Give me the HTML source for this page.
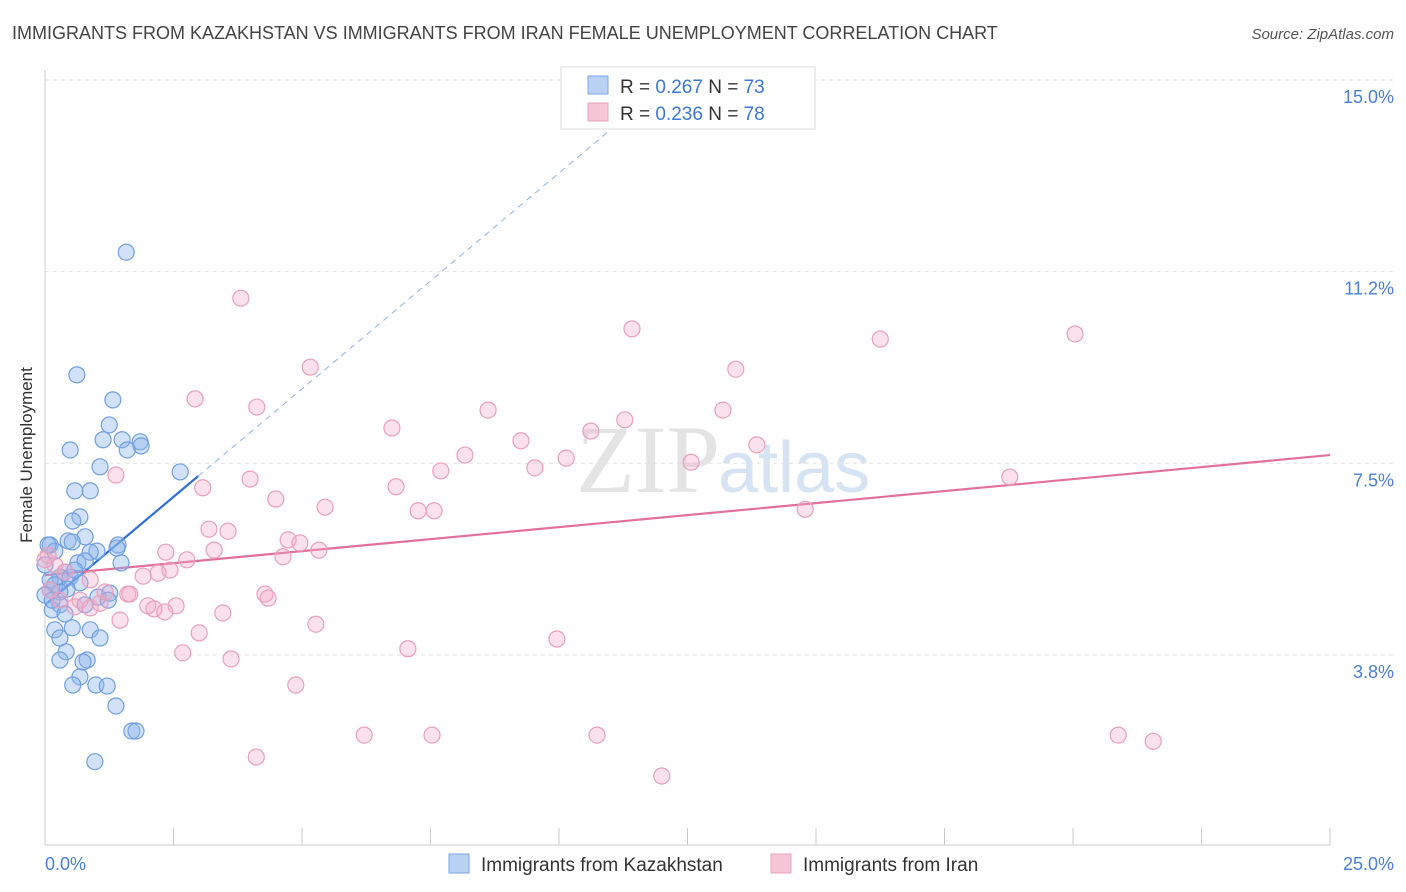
<!DOCTYPE html>
<html><head><meta charset="utf-8"><style>
body{margin:0;background:#fff;font-family:"Liberation Sans",sans-serif}
svg{display:block}
</style></head><body>
<svg width="1406" height="892" viewBox="0 0 1406 892">
<text x="12" y="39" font-size="18" fill="#444">IMMIGRANTS FROM KAZAKHSTAN VS IMMIGRANTS FROM IRAN FEMALE UNEMPLOYMENT CORRELATION CHART</text>
<text x="1394" y="39" font-size="15" fill="#555" text-anchor="end" font-style="italic">Source: ZipAtlas.com</text>
<text x="720" y="492" font-size="96" fill="#e4e4e4" text-anchor="end" font-family="Liberation Serif">ZIP</text>
<text x="718" y="492" font-size="72" fill="#d6e3f3">atlas</text>
<g id="grid"></g><g id="axes"></g><g id="lines"></g><g id="pts"></g>
<text x="32" y="455" font-size="17" fill="#333" text-anchor="middle" transform="rotate(-90 32 455)">Female Unemployment</text>
<text x="45" y="870" font-size="18" fill="#4a7fd4">0.0%</text>
<text x="1394" y="870" font-size="18" fill="#4a7fd4" text-anchor="end">25.0%</text>
<g>
<rect x="561" y="67" width="254" height="62" fill="#fff" stroke="#ddd"/>
<rect x="588" y="76" width="20" height="18" fill="#b9d2f3" stroke="#7aa6e6"/>
<rect x="588" y="103" width="20" height="18" fill="#f7c6d6" stroke="#eba2bb"/>
<text x="620" y="93" font-size="19" fill="#333">R = <tspan fill="#3b78d8">0.267</tspan>   N = <tspan fill="#3b78d8">73</tspan></text>
<text x="620" y="120" font-size="19" fill="#333">R = <tspan fill="#3b78d8">0.236</tspan>   N = <tspan fill="#3b78d8">78</tspan></text>
</g>
<g>
<rect x="449" y="854" width="20" height="19" fill="#b9d2f3" stroke="#7aa6e6"/>
<text x="481" y="871" font-size="19" fill="#333">Immigrants from Kazakhstan</text>
<rect x="771" y="854" width="20" height="19" fill="#f7c6d6" stroke="#eba2bb"/>
<text x="803" y="871" font-size="19" fill="#333">Immigrants from Iran</text>
</g>
</svg>
<script>
const yTicks=[3.75,7.5,11.25,15];
const yTickLabels=["3.8%","7.5%","11.2%","15.0%"];
const xTicks=[0,2.5,5,7.5,10,12.5,15,17.5,20,22.5,25];
const kazX=[1.58,0.62,1.32,1.25,1.13,1.50,1.85,1.87,1.60,0.49,1.07,2.63,0.58,0.88,0.68,0.54,0.78,0.45,0.53,1.42,1.40,1.01,0.88,0.10,0.19,1.48,0.64,0.78,0.39,0.29,0.49,0.10,0,0.19,0.68,0.43,0.10,0.29,0,1.26,1.03,1.23,0.78,0.29,0.14,0.39,0.53,0.19,0.88,1.07,0.29,0.41,0.29,0.82,0.74,0.68,0.54,0.99,1.21,1.38,1.69,1.77,0.97,0.06,0.14,0.58];
const kazY=[11.63,9.23,8.74,8.25,7.96,7.96,7.92,7.84,7.76,7.76,7.43,7.33,6.96,6.96,6.45,6.37,6.06,5.98,5.96,5.90,5.84,5.78,5.76,5.90,5.78,5.55,5.55,5.59,5.37,5.27,5.27,5.22,5.51,5.12,5.16,5.04,5.02,4.98,4.92,4.96,4.88,4.82,4.73,4.73,4.63,4.55,4.28,4.24,4.24,4.08,4.08,3.81,3.65,3.65,3.61,3.32,3.16,3.16,3.14,2.75,2.26,2.26,1.66,5.90,4.82,5.41];
const iranX=[3.81,11.42,16.25,20.04,5.16,13.44,2.92,4.12,8.62,13.19,11.28,6.75,10.62,9.26,13.85,8.17,10.14,9.53,12.57,7.70,1.38,3.99,18.77,6.83,3.07,4.49,5.45,7.26,7.57,14.79,3.19,3.56,4.73,4.96,5.33,2.35,3.29,4.63,2.76,2.43,2.20,1.91,0,0.19,0.39,0.88,0.10,0.29,0.58,0.88,1.07,1.17,1.61,1.65,4.28,4.34,2.00,2.55,2.12,2.33,3.46,1.46,5.27,3.00,9.96,2.68,7.06,3.62,4.88,6.21,7.53,10.74,20.88,21.56,4.11,12.00,0.06,0.68];
const iranY=[10.73,10.13,9.93,10.03,9.38,9.34,8.76,8.60,8.54,8.54,8.35,8.19,8.13,7.94,7.86,7.66,7.60,7.41,7.52,7.35,7.27,7.19,7.23,7.04,7.02,6.80,6.64,6.57,6.57,6.60,6.21,6.17,6.00,5.94,5.80,5.76,5.80,5.67,5.61,5.41,5.35,5.29,5.61,5.51,5.37,5.22,5.02,4.82,4.69,4.67,4.76,4.98,4.94,4.94,4.94,4.86,4.71,4.71,4.65,4.59,4.57,4.43,4.35,4.18,4.06,3.79,3.87,3.67,3.16,2.18,2.18,2.18,2.18,2.06,1.75,1.38,5.70,4.82];
const kazFit=[4.73,0.845], kazSolidEnd=2.98, kazDashEnd=11.09;
const iranFit=[5.31,0.094];
const NS='http://www.w3.org/2000/svg';
const X=v=>45+v*51.4, Y=v=>80+(15-v)*51.1;
function mk(p,t,a){const e=document.createElementNS(NS,t);for(const k in a)e.setAttribute(k,a[k]);document.getElementById(p).appendChild(e);return e;}
yTicks.forEach((t,i)=>{
 const g=mk('grid','line',{x1:45,x2:1394,y1:Y(t),y2:Y(t),stroke:'#e2e2e2','stroke-dasharray':'4 4'});
 
 
 const l=mk('grid','text',{x:1394,y:Y(t)+23,'font-size':18,fill:'#4a7fd4','text-anchor':'end'});
 l.textContent=yTickLabels[i];
 
 
});
const xa=mk('axes','line',{x1:45,x2:1330,y1:845,y2:845,stroke:'#ccc'});


const ya=mk('axes','line',{x1:45,x2:45,y1:70,y2:845,stroke:'#ccc'});


xTicks.forEach(t=>{
 const e=mk('axes','line',{x1:X(t),x2:X(t),y1:828,y2:845,stroke:'#ccc'});
 
 
});
kazX.forEach((x,i)=>{
 const c=mk('pts','circle',{cx:X(x),cy:Y(kazY[i]),r:8,fill:'rgba(140,180,235,0.4)',stroke:'#6f9fe2','stroke-width':1.2});
 
 
});
iranX.forEach((x,i)=>{
 const c=mk('pts','circle',{cx:X(x),cy:Y(iranY[i]),r:8,fill:'rgba(243,170,198,0.35)',stroke:'#eaa0bb','stroke-width':1.2});
 
 
});
const kd=mk('lines','line',{x1:X(kazSolidEnd),y1:Y(kazFit[0]+kazFit[1]*kazSolidEnd),x2:X(kazDashEnd),y2:Y(kazFit[0]+kazFit[1]*kazDashEnd),stroke:'#8fb3e6','stroke-width':1,'stroke-dasharray':'6 5'});


const ks=mk('lines','line',{x1:X(0),y1:Y(kazFit[0]),x2:X(kazSolidEnd),y2:Y(kazFit[0]+kazFit[1]*kazSolidEnd),stroke:'#2f6fd6','stroke-width':2.2});


const ir=mk('lines','line',{x1:X(0),y1:Y(iranFit[0]),x2:X(25),y2:Y(iranFit[0]+iranFit[1]*25),stroke:'#e2709a','stroke-width':2.2});


</script>
</body></html>
